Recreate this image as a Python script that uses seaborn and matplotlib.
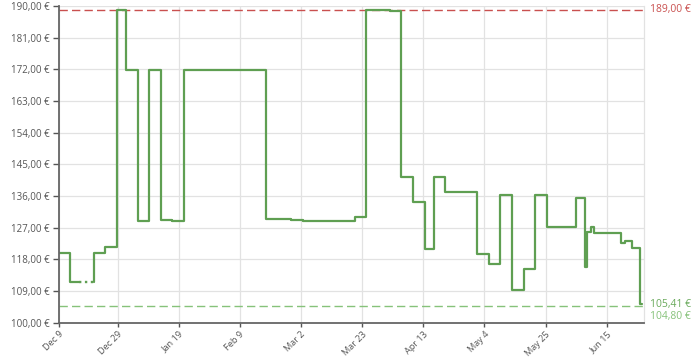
import matplotlib
matplotlib.use("Agg")
import matplotlib.pyplot as plt
import matplotlib.ticker as mticker
import seaborn as sns
import pandas as pd

# ---- data ----
change_dates = [
    "2024-12-09 07:00", "2024-12-12 18:00", "2024-12-20 18:00", "2024-12-24 18:00",
    "2024-12-28 21:00", "2024-12-31 23:00", "2025-01-04 21:00", "2025-01-08 20:00",
    "2025-01-12 20:00", "2025-01-16 20:00", "2025-01-20 20:00", "2025-02-17 20:00",
    "2025-02-26 18:00", "2025-03-02 18:00", "2025-03-20 11:00", "2025-03-24 11:00",
    "2025-04-01 11:00", "2025-04-05 11:00", "2025-04-09 11:00", "2025-04-13 11:00",
    "2025-04-16 13:00", "2025-04-20 13:00", "2025-05-01 12:00", "2025-05-05 14:00",
    "2025-05-09 12:00", "2025-05-13 12:00", "2025-05-17 12:00", "2025-05-21 12:00",
    "2025-05-25 14:00", "2025-06-04 12:00", "2025-06-07 14:00", "2025-06-08 07:00",
    "2025-06-09 12:00", "2025-06-10 14:00", "2025-06-19 19:00", "2025-06-21 07:00",
    "2025-06-23 14:00", "2025-06-26 14:00", "2025-06-27 05:00",
]
prices = [
    119.7, 111.6, 119.7, 121.6,
    189.0, 171.9, 129.0, 171.9,
    129.3, 128.8, 171.9, 129.5,
    129.3, 129.0, 130.1, 189.0,
    188.6, 141.4, 134.3, 121.0,
    141.3, 137.1, 119.4, 116.6,
    136.3, 109.2, 115.2, 136.3,
    127.1, 135.4, 115.8, 125.8,
    127.1, 125.4, 122.5, 123.1,
    121.3, 105.41, 105.41,
]
gap_start = "2024-12-15 16:00"   # missing data, drawn dotted
gap_end = "2024-12-20 18:00"
max_price = 189.00
min_price = 104.80
current_price = 105.41
tick_dates = ["2024-12-09", "2024-12-29", "2025-01-19", "2025-02-09", "2025-03-02",
              "2025-03-23", "2025-04-13", "2025-05-04", "2025-05-25", "2025-06-15"]
tick_labels = ["Dec 9", "Dec 29", "Jan 19", "Feb 9", "Mar 2",
               "Mar 23", "Apr 13", "May 4", "May 25", "Jun 15"]
y_ticks = [100, 109, 118, 127, 136, 145, 154, 163, 172, 181, 190]

# ---- build series ----
df = pd.DataFrame({"date": pd.to_datetime(change_dates), "price": prices})
gs, ge = pd.Timestamp(gap_start), pd.Timestamp(gap_end)
before = df[df["date"] < gs]
gap_price = float(before["price"].iloc[-1])
part1 = pd.concat([before, pd.DataFrame({"date": [gs], "price": [gap_price]})])
part2 = pd.concat([pd.DataFrame({"date": [ge], "price": [gap_price]}), df[df["date"] >= ge]])
dotted = pd.DataFrame({"date": [gs, ge], "price": [gap_price, gap_price], "kind": ["gap", "gap"]})

sns.set_theme(style="whitegrid")
plt.rcParams["font.family"] = ["Open Sans", "DejaVu Sans"]

fig = plt.figure(figsize=(7, 3.6), dpi=100)
ax = fig.add_axes([0.0847, 0.1039, 0.9204 - 0.0847, 0.9833 - 0.1039])

green = "#5f9f52"
for part in (part1, part2):
    sns.lineplot(data=part, x="date", y="price", ax=ax, color=green, lw=1.6,
                 drawstyle="steps-post", estimator=None, sort=False)
sns.lineplot(data=dotted, x="date", y="price", style="kind", dashes={"gap": (1.0, 1.5)},
             ax=ax, color=green, lw=1.7, estimator=None, sort=False, legend=False,
             zorder=3)

ax.axhline(max_price, color="#c9504f", lw=1.0, ls=(0, (6, 3)), zorder=1)
ax.axhline(min_price, color="#86c27a", lw=1.0, ls=(0, (6, 3)), zorder=1)

ax.set_ylim(100, 190)
ax.set_xlim(pd.Timestamp("2024-12-09 00:00"), pd.Timestamp("2025-06-27 22:00"))
ax.set_yticks(y_ticks)
ax.yaxis.set_major_formatter(mticker.FuncFormatter(lambda v, p: f"{v:.2f}".replace(".", ",") + " €"))
ax.set_xticks(pd.to_datetime(tick_dates))
ax.set_xticklabels(tick_labels, rotation=45, ha="right", rotation_mode="anchor")

ax.set_xlabel("")
ax.set_ylabel("")
ax.grid(True, color="#e2e2e2", lw=0.9)
ax.tick_params(axis="y", labelsize=7, colors="#555555", length=4, width=1,
               pad=3, direction="out", left=True)
ax.tick_params(axis="x", labelsize=6.6, colors="#555555", length=3, width=1,
               pad=2, direction="out", bottom=True)
for s in ("left", "bottom"):
    ax.spines[s].set_color("#666666")
    ax.spines[s].set_linewidth(1.3)
ax.spines["top"].set_visible(False)
ax.spines["right"].set_color("#e2e2e2")
ax.spines["right"].set_linewidth(0.9)

trans = ax.get_yaxis_transform()
ax.text(1.009, max_price, "189,00 €", transform=trans, color="#c9504f",
        fontsize=7.5, va="center", ha="left")
ax.text(1.009, current_price - 0.2, "105,41 €", transform=trans, color="#6aaa5c",
        fontsize=7.5, va="center", ha="left")
ax.text(1.009, min_price - 3.2, "104,80 €", transform=trans, color="#86c27a",
        fontsize=7.5, va="center", ha="left")

fig.savefig("out.png", dpi=100)
